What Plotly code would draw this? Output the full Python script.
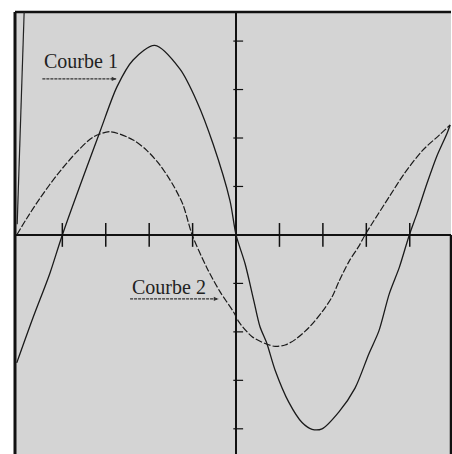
import plotly.graph_objects as go

# Curve 1 (large amplitude)
c1_x = [-5.05, -4.68, -4.29, -4.0, -3.13, -2.74, -2.37, -1.87, -1.29, -0.90, -0.53, -0.14,
        0.0, 0.21, 0.41, 0.55, 0.71, 0.90, 1.22, 1.52, 1.75, 1.98, 2.37, 2.74, 3.06, 3.29,
        3.53, 3.76, 3.99, 4.17, 4.40, 4.63, 4.86, 4.93]
c1_y = [-2.64, -1.72, -0.80, 0.0, 2.14, 3.06, 3.61, 3.91, 3.42, 2.75, 1.88, 0.71,
        0.0, -0.60, -1.36, -1.89, -2.24, -2.79, -3.46, -3.87, -4.01, -4.00, -3.65, -3.16, -2.45, -1.98,
        -1.21, -0.67, 0.0, 0.45, 1.07, 1.64, 2.10, 2.27]

# Curve 2 (smaller amplitude)
c2_x = [-5.05, -4.82, -4.52, -4.12, -3.66, -3.29, -2.90, -2.37, -2.05, -1.75, -1.45, -1.22, -1.01,
        -0.67, -0.37, -0.05, 0.07, 0.37, 0.67, 0.90, 1.13, 1.36, 1.68, 1.98, 2.21, 2.37, 2.60, 2.83,
        2.97, 3.13, 3.53, 3.87, 4.29, 4.68, 4.93]
c2_y = [0.0, 0.34, 0.75, 1.24, 1.72, 2.02, 2.13, 1.96, 1.74, 1.44, 1.03, 0.62, 0.0,
        -0.68, -1.17, -1.60, -1.80, -2.10, -2.24, -2.30, -2.27, -2.16, -1.91, -1.59, -1.28, -0.96, -0.55, -0.23,
        0.0, 0.23, 0.79, 1.26, 1.74, 2.06, 2.27]

x_ticks = [-4, -3, -2, -1, 1, 2, 3, 4]
y_ticks = [-4, -3, -2, -1, 1, 2, 3, 4]

labels = ["Courbe 1", "Courbe 2"]

X_RANGE = [-5.09, 4.95]
Y_RANGE = [-4.52, 4.60]

fig = go.Figure()

fig.add_trace(go.Scatter(x=c1_x, y=c1_y, mode="lines",
                         line=dict(color="#1a1a1a", width=1.3, shape="spline", smoothing=0.8),
                         hoverinfo="skip"))
fig.add_trace(go.Scatter(x=c2_x, y=c2_y, mode="lines",
                         line=dict(color="#1a1a1a", width=1.2, shape="spline", smoothing=0.8,
                                   dash="7px,2px"),
                         hoverinfo="skip"))

# tick marks crossing the horizontal axis
fig.add_trace(go.Scatter(x=x_ticks, y=[0] * len(x_ticks), mode="markers",
                         marker=dict(symbol="line-ns", size=17,
                                     line=dict(color="#111", width=1.5)),
                         hoverinfo="skip"))
# small tick marks on the vertical axis
fig.add_trace(go.Scatter(x=[0.05] * len(y_ticks), y=y_ticks, mode="markers",
                         marker=dict(symbol="line-ew", size=7,
                                     line=dict(color="#111", width=1.2)),
                         hoverinfo="skip"))

font = dict(family="Liberation Serif, DejaVu Serif, serif", size=20, color="#222")

# label positions (data coordinates)
lab_pos = [(-4.46, 3.59, -2.76, 3.22), (-2.44, -1.07, -0.41, -1.32)]
for txt, (tx, ty, ax_end, uy) in zip(labels, lab_pos):
    fig.add_annotation(x=tx, y=ty, xref="x", yref="y", text=txt, showarrow=False,
                       xanchor="left", yanchor="middle", font=font)
    fig.add_shape(type="line", xref="x", yref="y", x0=tx, x1=ax_end, y0=uy, y1=uy,
                  line=dict(color="#333", width=1.2, dash="3px,1px"))
    fig.add_annotation(x=ax_end, y=uy, xref="x", yref="y", ax=-6, ay=0, text="",
                       showarrow=True, arrowhead=2, arrowsize=0.8, arrowwidth=1.1,
                       arrowcolor="#333")

# right frame line below the axis
fig.add_shape(type="line", xref="paper", yref="y", x0=1, x1=1, y0=0, y1=Y_RANGE[0],
              line=dict(color="#111", width=2.5))
# top frame line
fig.add_shape(type="line", xref="paper", yref="paper", x0=0, x1=1, y0=1, y1=1,
              line=dict(color="#111", width=2.5))
# left frame line
fig.add_shape(type="line", xref="paper", yref="paper", x0=0, x1=0, y0=0, y1=1,
              line=dict(color="#111", width=3))
# faint inner line near left border (scan edge)
fig.add_shape(type="line", xref="paper", yref="paper", x0=0.021, x1=0.005, y0=1, y1=0.52,
              line=dict(color="#222", width=1.2))

fig.update_layout(
    width=452, height=454,
    margin=dict(l=15, r=1, t=12, b=0),
    paper_bgcolor="white",
    plot_bgcolor="#d4d4d4",
    showlegend=False,
    xaxis=dict(range=X_RANGE, showgrid=False, showticklabels=False, ticks="",
               zeroline=True, zerolinecolor="#111", zerolinewidth=1.6, showline=False,
               fixedrange=True),
    yaxis=dict(range=Y_RANGE, showgrid=False, showticklabels=False, ticks="",
               zeroline=True, zerolinecolor="#111", zerolinewidth=2.2, showline=False,
               fixedrange=True),
)

fig.write_html("out.html", config={"displayModeBar": False, "responsive": False},
               post_script="document.body.style.margin='0';document.body.style.padding='0';"
                           "document.body.style.overflow='hidden';")
